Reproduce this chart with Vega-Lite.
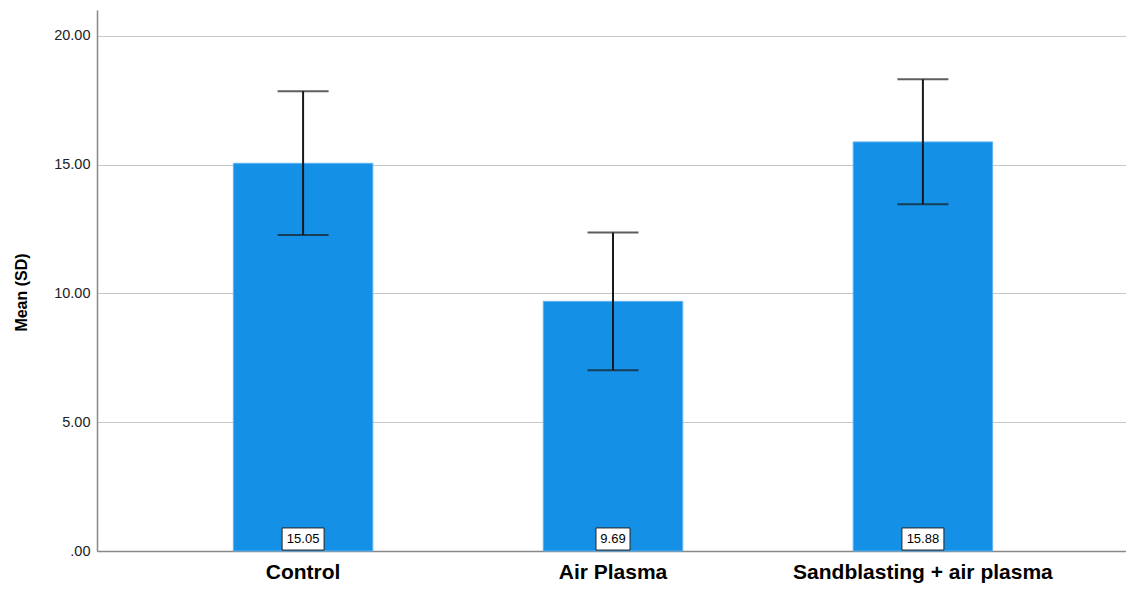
{
  "$schema": "https://vega.github.io/schema/vega-lite/v6.json",
  "autosize": {"type": "none"},
  "padding": {"left": 97, "top": 10, "right": 0, "bottom": 38},
  "width": 1032,
  "height": 541,
  "background": "white",
  "config": {"view": {"stroke": null}, "font": "Liberation Sans"},
  "data": {"values": [
    {"group": "Control", "mean": 15.05, "lower": 12.27, "upper": 17.85, "label": "15.05"},
    {"group": "Air Plasma", "mean": 9.69, "lower": 7.02, "upper": 12.36, "label": "9.69"},
    {"group": "Sandblasting + air plasma", "mean": 15.88, "lower": 13.46, "upper": 18.31, "label": "15.88"}
  ]},
  "encoding": {
    "x": {"field": "group", "type": "nominal", "sort": null,
      "scale": {"paddingInner": 0.55, "paddingOuter": 0.44},
      "axis": {"title": null, "labelAngle": 0, "labelFontSize": 21, "labelFontWeight": "bold", "labelColor": "#000", "labelPadding": 10, "labelLimit": 0, "ticks": false, "domainColor": "#888", "domainWidth": 1.5, "grid": false}}
  },
  "layer": [
    {
      "mark": {"type": "bar", "color": "#1490e6", "stroke": "#5fb3ee", "strokeWidth": 1},
      "encoding": {
        "y": {"field": "mean", "type": "quantitative",
          "scale": {"domain": [0, 21], "nice": false},
          "axis": {"title": "Mean (SD)", "titleFontSize": 16, "titleFontWeight": "bold", "titleColor": "#000", "titlePadding": 24, "titleY": 282,
            "values": [0, 5, 10, 15, 20],
            "labelExpr": "datum.value == 0 ? '.00' : format(datum.value, '.2f')",
            "labelFontSize": 14.5, "labelColor": "#222", "labelPadding": 7, "ticks": false,
            "domainColor": "#888", "domainWidth": 1.5, "gridColor": "#c8c8c8", "gridWidth": 1.2}}
      }
    },
    {
      "mark": {"type": "rule", "color": "#1a1a1a", "strokeWidth": 2},
      "encoding": {"y": {"field": "lower", "type": "quantitative"}, "y2": {"field": "upper"}}
    },
    {
      "mark": {"type": "tick", "color": "#1a1a1a", "size": 51, "thickness": 2},
      "encoding": {"y": {"field": "upper", "type": "quantitative"}}
    },
    {
      "mark": {"type": "tick", "color": "#1a1a1a", "size": 51, "thickness": 2},
      "encoding": {"y": {"field": "lower", "type": "quantitative"}}
    },
    {
      "mark": {"type": "point", "size": 1955, "filled": true, "fill": "white", "stroke": "#222", "strokeWidth": 1, "opacity": 1, "yOffset": -12},
      "encoding": {
        "y": {"datum": 0, "type": "quantitative"},
        "shape": {"condition": {"test": "length(datum.label) < 5", "value": "M-0.77,-0.5H0.77V0.5H-0.77Z"}, "value": "M-0.95,-0.5H0.95V0.5H-0.95Z"}
      }
    },
    {
      "mark": {"type": "text", "fontSize": 13, "color": "#000", "baseline": "middle", "yOffset": -12},
      "encoding": {"y": {"datum": 0, "type": "quantitative"}, "text": {"field": "label"}}
    }
  ]
}
